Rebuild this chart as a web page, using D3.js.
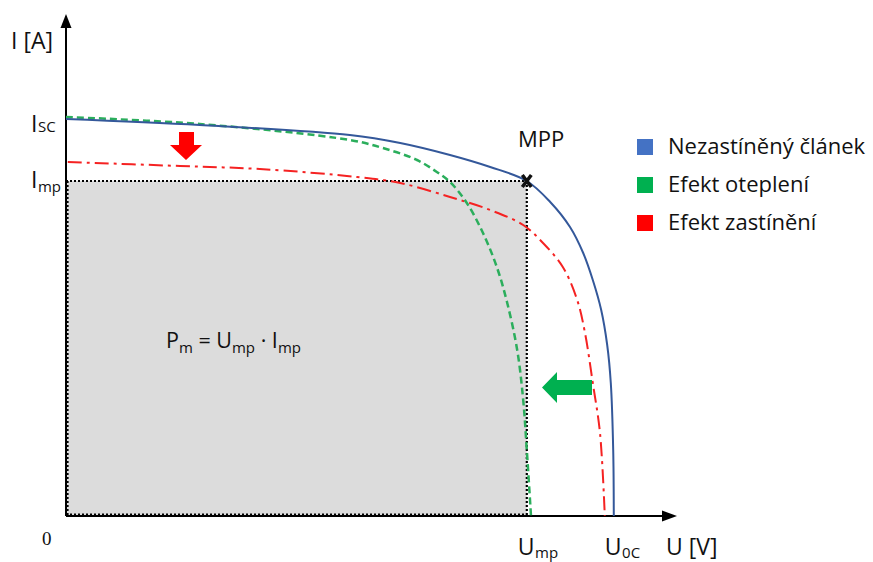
<!DOCTYPE html>
<html>
<head>
<meta charset="utf-8">
<script src="https://cdn.jsdelivr.net/npm/d3@7"></script>
<style>
  html, body { margin: 0; padding: 0; background: #fff; }
  svg { display: block; }
  text { font-family: "Open Sans", Lato, sans-serif; fill: #111; }
</style>
</head>
<body>
<svg id="chart" width="873" height="562"></svg>
<script>
// ---- data (arbitrary units: U 0..100, I 0..100) ----
const blueU  = [0, 22.3, 47.3, 55.7, 64.0, 70.7, 76.8, 80.7, 84.0, 86.2, 87.8, 89.2, 90.2, 90.8, 91.2, 91.3];
const blueI  = [79.4, 78.2, 76.2, 74.6, 72.2, 69.8, 67.0, 62.8, 57.8, 52.6, 47.2, 41.2, 34.2, 26.6, 13.2, 0];
const greenU = [0, 22.3, 47.3, 52.8, 58.5, 61.8, 64.0, 66.8, 69.5, 71.8, 73.5, 75.2, 76.2, 76.8, 77.5];
const greenI = [79.8, 78.4, 75.2, 73.6, 71.2, 68.8, 66.8, 62.6, 56.6, 49.8, 42.8, 33.2, 23.2, 13.2, 0];
const redU   = [0.3, 19.0, 32.3, 48.5, 55.7, 64.0, 70.7, 76.2, 79.5, 82.8, 85.2, 86.5, 87.8, 89.0, 89.8];
const redI   = [70.8, 70.0, 69.4, 67.8, 66.6, 63.8, 61.2, 58.2, 54.6, 49.8, 43.2, 36.6, 26.6, 16.6, 0];

const Isc = 79.4, Imp = 67.0, Ump = 76.8, Uoc = 91.3;
const seriesNames = ["Nezastíněný článek", "Efekt oteplení", "Efekt zastínění"];
const legendColors = ["#4472C4", "#00B050", "#FF0000"];
const lineColors = ["#34589A", "#2BAE5C", "#F52222"];
const axisLabels = ["I [A]", "U [V]"];

const svg = d3.select("#chart");
const x = d3.scaleLinear().domain([0, 100]).range([66, 666]);
const y = d3.scaleLinear().domain([0, 100]).range([516, 16]);

// grey power rectangle
svg.append("rect")
  .attr("x", x(0)).attr("y", y(Imp))
  .attr("width", x(Ump) - x(0)).attr("height", y(0) - y(Imp))
  .attr("fill", "#dcdcdc");

// axes
svg.append("line").attr("x1", x(0)).attr("y1", y(0)).attr("x2", x(0)).attr("y2", 26)
  .attr("stroke", "#000").attr("stroke-width", 2);
svg.append("path").attr("d", `M${x(0)-5.5},28 L${x(0)},14 L${x(0)+5.5},28 Z`).attr("fill", "#000");
svg.append("line").attr("x1", x(0)).attr("y1", y(0)).attr("x2", 664).attr("y2", y(0))
  .attr("stroke", "#000").attr("stroke-width", 2);
svg.append("path").attr("d", `M662,${y(0)-5.5} L677,${y(0)} L662,${y(0)+5.5} Z`).attr("fill", "#000");

// dotted borders of rectangle
function dotted(x1, y1, x2, y2) {
  svg.append("line").attr("x1", x1).attr("y1", y1).attr("x2", x2).attr("y2", y2)
    .attr("stroke", "#000").attr("stroke-width", 2.2).attr("stroke-dasharray", "2,2");
}
dotted(x(0), y(Imp), x(Ump), y(Imp));
dotted(x(Ump), y(Imp), x(Ump), y(0));
dotted(x(0) + 1.5, y(Imp), x(0) + 1.5, y(0));
dotted(x(0), y(0) - 1.5, x(Ump), y(0) - 1.5);

// curves
const line = d3.line().x(d => x(d[0])).y(d => y(d[1])).curve(d3.curveCatmullRom.alpha(0.5));
const mk = (us, is) => us.map((u, i) => [u, is[i]]);
svg.append("path").attr("d", line(mk(redU, redI))).attr("fill", "none")
  .attr("stroke", lineColors[2]).attr("stroke-width", 2).attr("stroke-dasharray", "14,5,3,5");
svg.append("path").attr("d", line(mk(greenU, greenI))).attr("fill", "none")
  .attr("stroke", lineColors[1]).attr("stroke-width", 2.5).attr("stroke-dasharray", "7,4");
svg.append("path").attr("d", line(mk(blueU, blueI))).attr("fill", "none")
  .attr("stroke", lineColors[0]).attr("stroke-width", 2);

// MPP marker
const mx = x(Ump), my = y(Imp);
svg.append("path").attr("d", `M${mx-4.5},${my-6} L${mx+4.5},${my+6} M${mx+4.5},${my-6} L${mx-4.5},${my+6}`)
  .attr("stroke", "#111").attr("stroke-width", 3.5);
svg.append("text").attr("x", 518).attr("y", 147).attr("font-size", 22).text("MPP");

// arrows
svg.append("path").attr("d", "M179,132 L194,132 L194,145 L202,145 L186,160 L170,145 L179,145 Z").attr("fill", "#FF0000");
svg.append("path").attr("d", "M592,380 L592,395 L557,395 L557,403 L542,387.5 L557,372 L557,380 Z").attr("fill", "#00B050");

// axis labels
svg.append("text").attr("x", 11).attr("y", 49).attr("font-size", 23).text(axisLabels[0]);
svg.append("text").attr("x", 666).attr("y", 555).attr("font-size", 23).text(axisLabels[1]);
svg.append("text").attr("x", 42).attr("y", 545).attr("font-size", 19)
  .style("font-family", "'Liberation Serif', serif").text("0");

function subLabel(px, py, main, sub, mainSize, subSize, subDy) {
  const t = svg.append("text").attr("x", px).attr("y", py);
  t.append("tspan").attr("font-size", mainSize).text(main);
  t.append("tspan").attr("font-size", subSize).attr("dy", subDy).attr("dx", 0.5).text(sub);
  return t;
}
subLabel(31, y(Isc) + 13, "I", "SC", 23, 15, 0);
subLabel(31, y(Imp) + 7, "I", "mp", 23, 15, 4);
subLabel(x(Ump) - 9, 555, "U", "mp", 23, 15, 3);
subLabel(x(Uoc) - 9, 555, "U", "0C", 23, 15, 3);

// formula
const f = svg.append("text").attr("x", 166).attr("y", 348).attr("font-size", 21.5);
f.append("tspan").text("P");
f.append("tspan").attr("font-size", 15).attr("dy", 5).text("m");
f.append("tspan").attr("dy", -5).text(" = U");
f.append("tspan").attr("font-size", 15).attr("dy", 5).text("mp");
f.append("tspan").attr("dy", -5).text(" · I");
f.append("tspan").attr("font-size", 15).attr("dy", 5).text("mp");

// legend
const lg = svg.append("g").selectAll("g").data(seriesNames).join("g")
  .attr("transform", (d, i) => `translate(637,${139 + i * 38})`);
lg.append("rect").attr("width", 16).attr("height", 16).attr("fill", (d, i) => legendColors[i]);
lg.append("text").attr("x", 31).attr("y", 15).attr("font-size", 22).text(d => d);
</script>
</body>
</html>
